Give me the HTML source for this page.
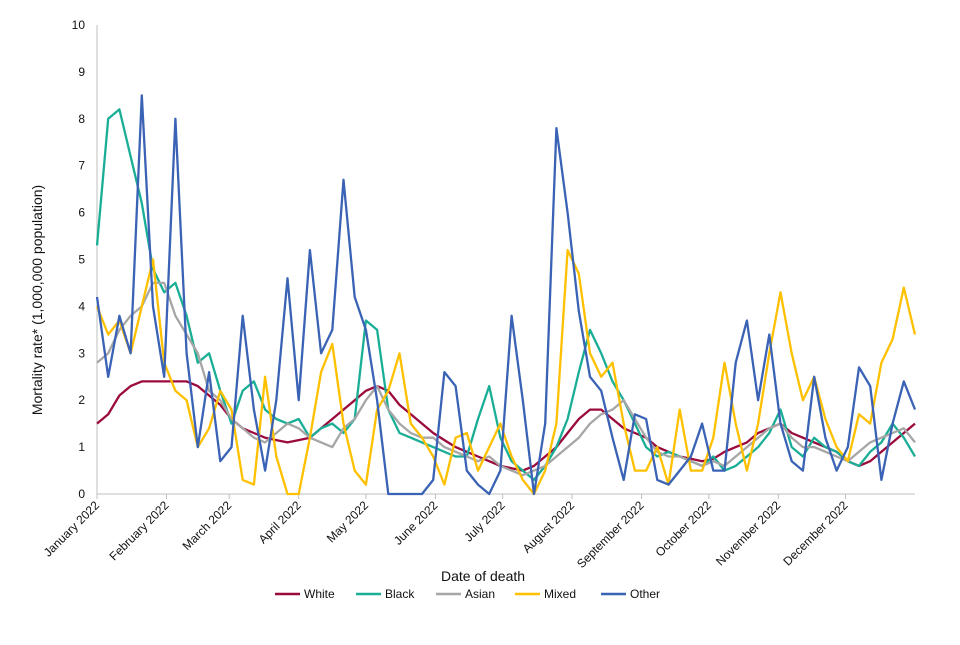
<!DOCTYPE html>
<html><head><meta charset="utf-8"><style>
body{margin:0;background:#fff;font-family:"Liberation Sans",Arial,sans-serif}
svg text{font-family:"Liberation Sans",Arial,sans-serif;fill:#111}
</style></head><body>
<svg id="chart" width="960" height="640"></svg>
<script>
const months=["January 2022","February 2022","March 2022","April 2022","May 2022","June 2022","July 2022","August 2022","September 2022","October 2022","November 2022","December 2022"];
const monthStartDays=[0,31,59,90,120,151,181,212,243,273,304,334];
const yTicks=[0,1,2,3,4,5,6,7,8,9,10];
const seriesNames=["White","Black","Asian","Mixed","Other"];
const white=[1.5,1.7,2.1,2.3,2.4,2.4,2.4,2.4,2.4,2.3,2.1,1.9,1.6,1.4,1.3,1.2,1.15,1.1,1.15,1.2,1.4,1.6,1.8,2.0,2.2,2.3,2.2,1.9,1.7,1.5,1.3,1.15,1.0,0.9,0.8,0.7,0.6,0.55,0.5,0.6,0.8,1.0,1.3,1.6,1.8,1.8,1.6,1.4,1.3,1.2,1.0,0.9,0.8,0.75,0.7,0.75,0.9,1.0,1.1,1.3,1.4,1.5,1.3,1.2,1.1,1.0,0.9,0.7,0.6,0.7,0.9,1.1,1.3,1.5];
const black=[5.3,8.0,8.2,7.2,6.2,4.8,4.3,4.5,3.8,2.8,3.0,2.2,1.5,2.2,2.4,1.8,1.6,1.5,1.6,1.2,1.4,1.5,1.3,1.6,3.7,3.5,1.8,1.3,1.2,1.1,1.0,0.9,0.8,0.8,1.6,2.3,1.2,0.7,0.5,0.3,0.6,1.0,1.6,2.6,3.5,3.0,2.4,2.0,1.5,1.0,0.8,0.9,0.8,0.7,0.6,0.8,0.5,0.6,0.8,1.0,1.3,1.8,1.0,0.8,1.2,1.0,0.9,0.7,0.6,0.9,1.1,1.5,1.2,0.8];
const asian=[2.8,3.0,3.5,3.8,4.0,4.5,4.5,3.8,3.4,3.0,2.2,2.0,1.6,1.4,1.2,1.1,1.3,1.5,1.4,1.2,1.1,1.0,1.4,1.6,2.0,2.3,1.8,1.5,1.3,1.2,1.2,1.0,0.9,0.8,0.7,0.8,0.6,0.5,0.4,0.5,0.6,0.8,1.0,1.2,1.5,1.7,1.8,2.0,1.6,1.2,0.9,0.8,0.8,0.7,0.6,0.7,0.6,0.8,1.0,1.2,1.4,1.5,1.2,1.0,1.0,0.9,0.8,0.7,0.9,1.1,1.2,1.3,1.4,1.1];
const mixed=[4.0,3.4,3.7,3.0,4.0,5.0,2.8,2.2,2.0,1.0,1.4,2.2,1.8,0.3,0.2,2.5,0.8,0.0,0.0,1.2,2.6,3.2,1.5,0.5,0.2,1.8,2.2,3.0,1.5,1.2,0.8,0.2,1.2,1.3,0.5,1.0,1.5,0.8,0.3,0.0,0.5,1.5,5.2,4.7,3.0,2.5,2.8,1.5,0.5,0.5,1.0,0.2,1.8,0.5,0.5,1.2,2.8,1.5,0.5,1.5,3.0,4.3,3.0,2.0,2.5,1.6,1.0,0.7,1.7,1.5,2.8,3.3,4.4,3.4];
const other=[4.2,2.5,3.8,3.0,8.5,4.0,2.5,8.0,3.0,1.0,2.6,0.7,1.0,3.8,1.8,0.5,2.0,4.6,2.0,5.2,3.0,3.5,6.7,4.2,3.5,2.0,0.0,0,0,0,0.3,2.6,2.3,0.5,0.2,0.0,0.5,3.8,2.0,0.0,1.5,7.8,6.0,3.9,2.5,2.2,1.2,0.3,1.7,1.6,0.3,0.2,0.5,0.8,1.5,0.5,0.5,2.8,3.7,2.0,3.4,1.5,0.7,0.5,2.5,1.2,0.5,1.0,2.7,2.3,0.3,1.5,2.4,1.8];
const seriesData=[white,black,asian,mixed,other];
const colors=["#9b0a3c","#1aae96","#a6a6a6","#ffc000","#3a62b5"];
const X0=97,X1=915,Y0=494,Y1=25,DAYS=365;
const xs=d=>X0+(X1-X0)*d/DAYS;
const ys=v=>Y0-(Y0-Y1)*v/10;
const NS="http://www.w3.org/2000/svg";
const svg=document.getElementById("chart");
function mk(t,a){const e=document.createElementNS(NS,t);for(const k in a)e.setAttribute(k,a[k]);svg.appendChild(e);return e;}
let ax=mk("line",{x1:X0,y1:Y1,x2:X0,y2:Y0,stroke:"#bfbfbf"});


let bx=mk("line",{x1:X0,y1:Y0,x2:X1,y2:Y0,stroke:"#bfbfbf"});


yTicks.forEach(v=>{
 const t=mk("text",{x:X0-12,y:ys(v)+4,"text-anchor":"end","font-size":12});t.textContent=v;
 
 
});
monthStartDays.forEach((d,i)=>{
 const x=xs(d);
 const tk=mk("line",{x1:x,y1:Y0,x2:x,y2:Y0+5,stroke:"#bfbfbf"});
 
 
 const t=mk("text",{x:x+3,y:Y0+12,"text-anchor":"end","font-size":12,transform:`rotate(-45 ${x+3} ${Y0+12})`});t.textContent=months[i];
 
 
});
seriesData.forEach((arr,s)=>{
 const pts=arr.map((v,i)=>xs(i*DAYS/(arr.length-1)).toFixed(1)+","+ys(v).toFixed(1)).join(" ");
 const p=mk("polyline",{points:pts,fill:"none",stroke:colors[s],"stroke-width":2.3,"stroke-linejoin":"round"});
 
 
});
const yt=mk("text",{x:42,y:300,"text-anchor":"middle","font-size":14,transform:"rotate(-90 42 300)"});yt.textContent="Mortality rate* (1,000,000 population)";


const xt=mk("text",{x:483,y:581,"text-anchor":"middle","font-size":14});xt.textContent="Date of death";


const legX=[275,356,436,515,601];
seriesNames.forEach((n,s)=>{
 const l=mk("line",{x1:legX[s],y1:594,x2:legX[s]+25,y2:594,stroke:colors[s],"stroke-width":2.6});
 
 
 const t=mk("text",{x:legX[s]+29,y:598,"font-size":12});t.textContent=n;
 
 
});
</script>
</body></html>
